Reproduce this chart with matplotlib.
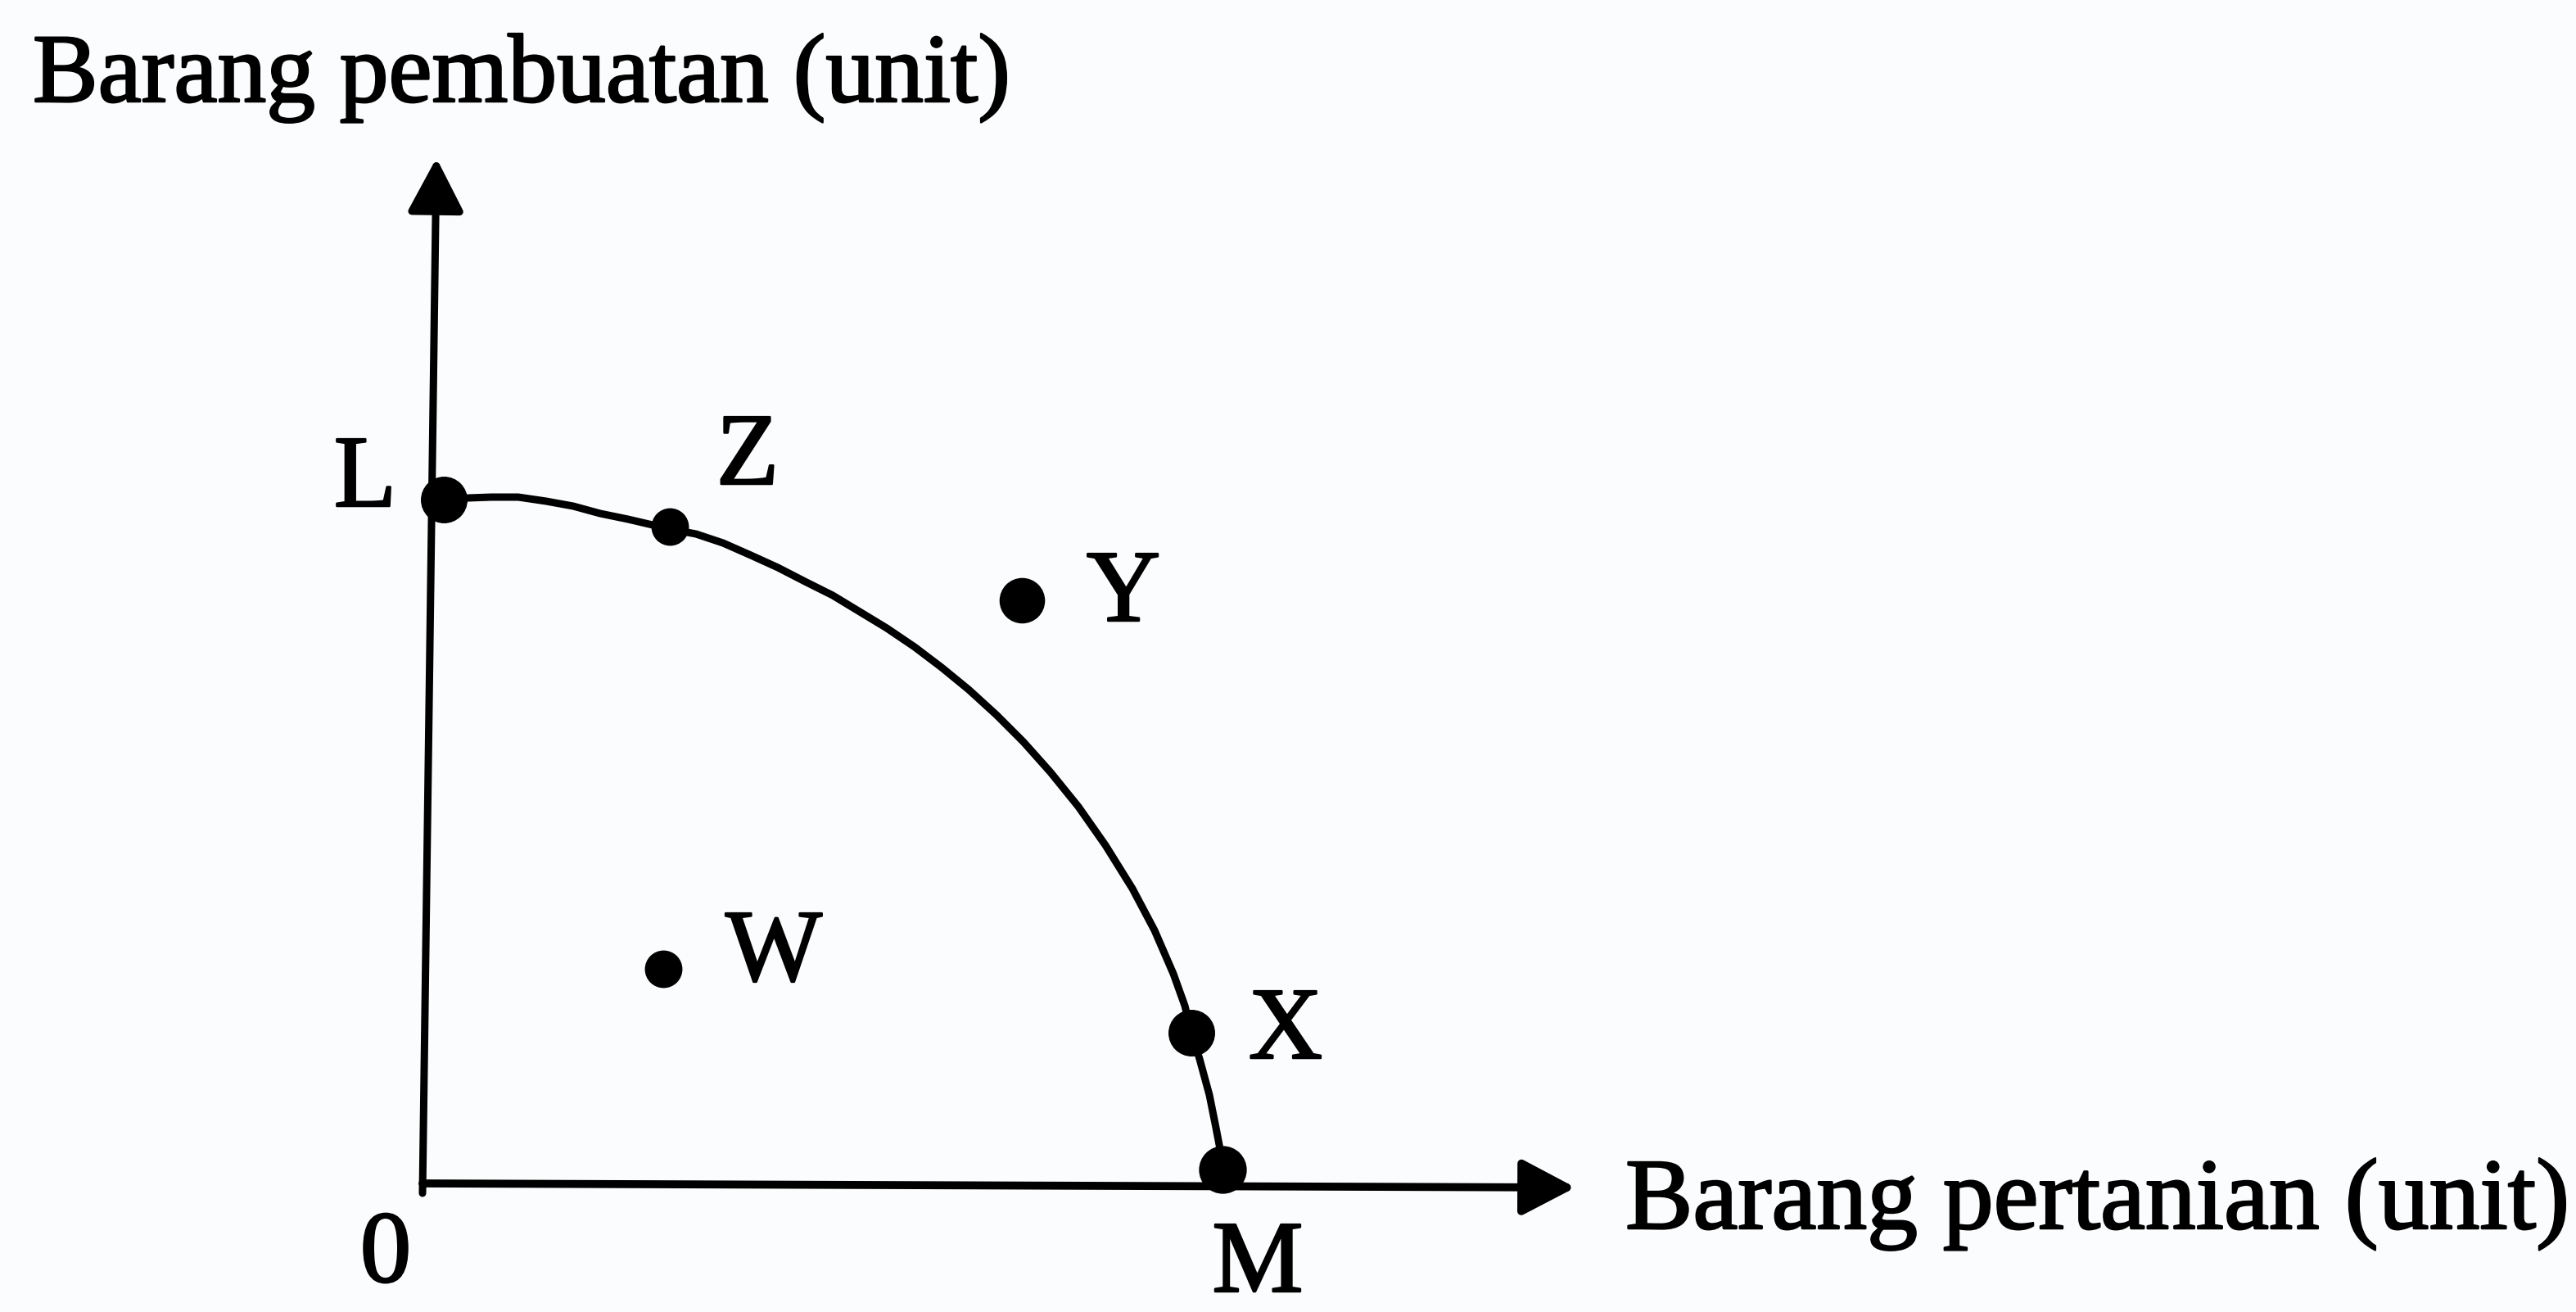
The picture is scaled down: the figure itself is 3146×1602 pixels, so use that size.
import matplotlib.pyplot as plt
import matplotlib.patheffects as pe
from matplotlib.patches import FancyArrowPatch

# titik pada rajah (unit barang)
titik_nama = ["L", "Z", "Y", "W", "X", "M"]
titik_x = [0.26, 3.02, 7.32, 2.94, 9.39, 9.77]
titik_y = [8.35, 8.02, 7.12, 2.62, 1.84, 0.17]

# keluk kemungkinan pengeluaran, dibaca titik demi titik dari gambar
keluk_x = [0.26, 0.56, 0.84, 1.17, 1.51, 1.84, 2.17, 2.51, 2.81, 3.02,
           3.34, 3.67, 4.01, 4.34, 4.67, 5.01, 5.34, 5.67, 6.01, 6.34,
           6.67, 7.01, 7.34, 7.67, 8.01, 8.34, 8.67, 8.94, 9.17, 9.31,
           9.39, 9.49, 9.61, 9.69, 9.74, 9.77]
keluk_y = [8.35, 8.37, 8.38, 8.38, 8.33, 8.27, 8.18, 8.11, 8.04, 7.99,
           7.93, 7.82, 7.67, 7.52, 7.35, 7.18, 6.98, 6.78, 6.55, 6.30,
           6.03, 5.72, 5.39, 5.02, 4.60, 4.13, 3.60, 3.09, 2.56, 2.17,
           1.84, 1.52, 1.08, 0.68, 0.42, 0.17]

label_x = "Barang pertanian (unit)"
label_y = "Barang pembuatan (unit)"
label_asal = "0"

# hujung anak panah paksi (gambar asal sedikit senget)
paksi_x_hujung = (14.08, -0.05)
paksi_y_hujung = (0.17, 12.52)

#---------------------------
# gaya
#---------------------------
saiz_titik = {"L": 40, "Z": 32, "Y": 39, "W": 32, "X": 40, "M": 41}
ofset_label = {"L": (-0.96, -0.08), "Z": (0.95, 0.52), "Y": (1.24, -0.25),
               "W": (1.35, -0.14), "X": (1.15, -0.31), "M": (0.43, -1.49)}

plt.rcParams["font.family"] = ["Liberation Serif", "DejaVu Serif"]
warna_latar = "#fafcfd"
tebal = [pe.withStroke(linewidth=1.8, foreground="black")]

fig = plt.figure(figsize=(31.46, 16.02), dpi=100, facecolor=warna_latar)
ax = fig.add_axes([0, 0, 1, 1])
ax.set_facecolor(warna_latar)
ax.set_xlim(-5.16, 26.30)
ax.set_ylim(-1.57, 14.45)
ax.axis("off")

gaya_panah = "-|>,head_length=40,head_width=21"
ax.add_patch(FancyArrowPatch((0, 0), paksi_x_hujung, arrowstyle=gaya_panah,
                             mutation_scale=1, lw=7, color="black",
                             shrinkA=0, shrinkB=0, zorder=2))
ax.add_patch(FancyArrowPatch((0, -0.12), paksi_y_hujung, arrowstyle=gaya_panah,
                             mutation_scale=1, lw=6.5, color="black",
                             shrinkA=0, shrinkB=0, zorder=2))

ax.plot(keluk_x, keluk_y, color="black", lw=6.5,
        solid_joinstyle="round", solid_capstyle="round", zorder=3)

for nama, x, y in zip(titik_nama, titik_x, titik_y):
    ax.plot(x, y, "o", color="black", markersize=saiz_titik[nama], zorder=4)
    dx, dy = ofset_label[nama]
    ax.text(x + dx, y + dy, nama, fontsize=90, ha="center", va="baseline",
            path_effects=tebal)

ax.text(-0.45, -1.20, label_asal, fontsize=90, ha="center", va="baseline",
        path_effects=tebal)
ax.text(-4.76, 13.21, label_y, fontsize=86, ha="left", va="baseline",
        path_effects=tebal)
ax.text(14.69, -0.55, label_x, fontsize=89, ha="left", va="baseline",
        path_effects=tebal)

fig.savefig("out.png", dpi=100, facecolor=warna_latar)
plt.close(fig)
